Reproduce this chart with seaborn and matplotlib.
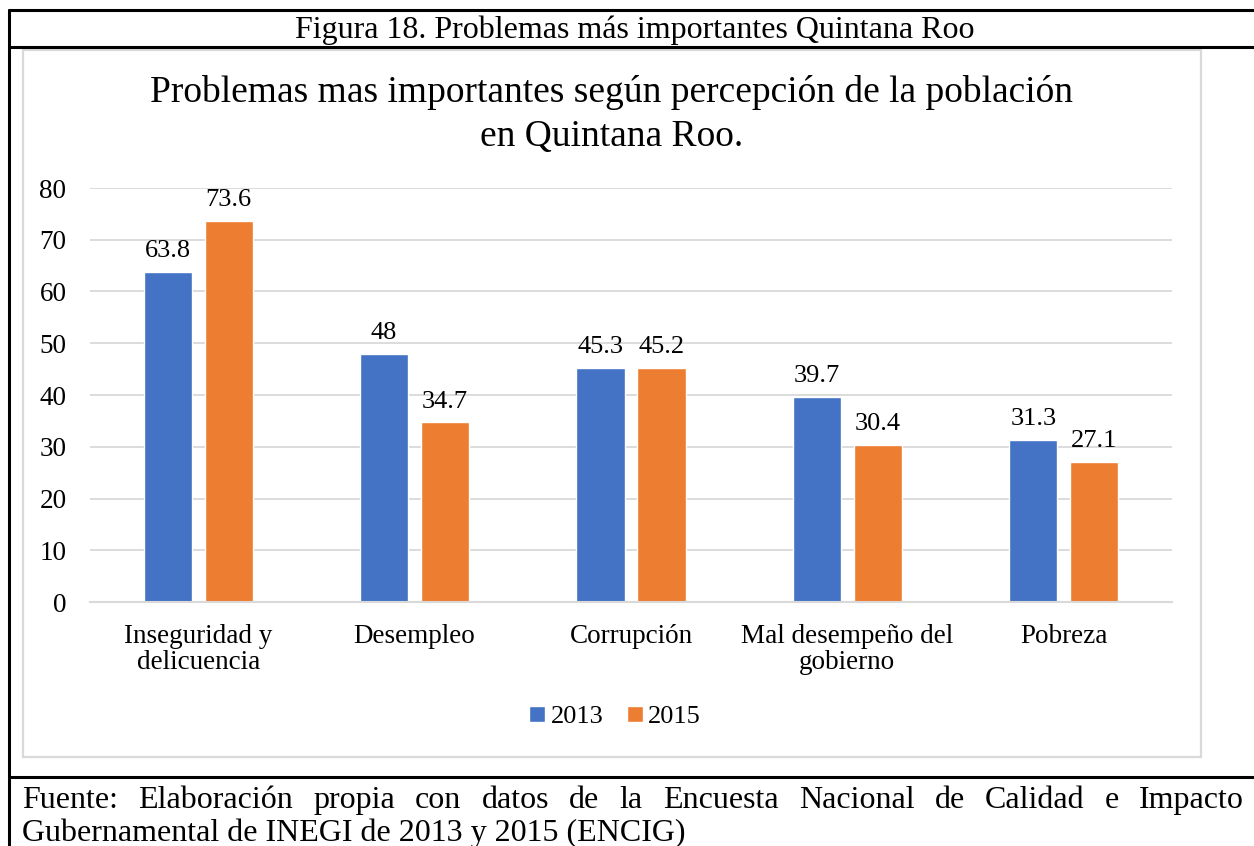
import numpy as np
import pandas as pd
import matplotlib.pyplot as plt
import seaborn as sns
from matplotlib.lines import Line2D
from matplotlib.patches import Rectangle

# data
categorias = ["Inseguridad y\ndelicuencia", "Desempleo", "Corrupción",
              "Mal desempeño del\ngobierno", "Pobreza"]
anios = ["2013", "2015"]
valores_2013 = [63.8, 48, 45.3, 39.7, 31.3]
valores_2015 = [73.6, 34.7, 45.2, 30.4, 27.1]
y_ticks = [0, 10, 20, 30, 40, 50, 60, 70, 80]
colores = ["#4472C4", "#ED7D31"]

df = pd.DataFrame({
    "problema": categorias * 2,
    "anio": [anios[0]] * len(categorias) + [anios[1]] * len(categorias),
    "valor": valores_2013 + valores_2015,
})

sns.set_theme(style="white")
plt.rcParams["font.family"] = ["Liberation Serif", "DejaVu Serif"]
plt.rcParams["text.color"] = "black"
plt.rcParams["xtick.color"] = "black"
plt.rcParams["ytick.color"] = "black"

W, H = 1254, 846
fig = plt.figure(figsize=(W / 100, H / 100), dpi=100)

def fx(px):
    return px / W

def fy(py):
    return 1 - py / H

ax = fig.add_axes([fx(90), fy(602), fx(1172) - fx(90), fy(188) - fy(602)])

sns.barplot(data=df, x="problema", y="valor", hue="anio", palette=colores,
            saturation=1, width=0.563, gap=0.21, ax=ax, legend=True)

for cont in ax.containers:
    ax.bar_label(cont, labels=["{:g}".format(v) for v in cont.datavalues],
                 padding=7, fontsize=19, color="black")

ax.set_ylim(0, 80)
ax.set_yticks(y_ticks)
ax.set_yticklabels([str(t) for t in y_ticks], fontsize=19.5)
ax.set_xticks(range(len(categorias)))
ax.set_xticklabels(categorias, fontsize=19.5, linespacing=1.05)
ax.tick_params(axis="x", length=0, pad=16, labelcolor="black")
ax.tick_params(axis="y", length=0, pad=17, labelcolor="black")
ax.set_xlabel("")
ax.set_ylabel("")
ax.grid(axis="y", color="#D9D9D9", linewidth=1.3)
ax.set_axisbelow(True)
for s in ["top", "right", "left"]:
    ax.spines[s].set_visible(False)
ax.spines["bottom"].set_color("#D9D9D9")
ax.spines["bottom"].set_linewidth(1.5)

h, l = ax.get_legend_handles_labels()
leg = ax.legend(h, l, loc="center", bbox_to_anchor=(fx(615), fy(717)),
                bbox_transform=fig.transFigure, ncol=2, frameon=False, fontsize=19,
                handlelength=0.6, handleheight=0.6, handletextpad=0.2,
                columnspacing=0.9, labelcolor="black")

# title of the chart
fig.text(fx(612), fy(93), "Problemas mas importantes según percepción de la población",
         ha="center", va="center", fontsize=27, color="black")
fig.text(fx(612), fy(137), "en Quintana Roo.", ha="center", va="center",
         fontsize=27, color="black")

# chart frame (light gray)
fig.add_artist(Rectangle((fx(23), fy(757)), fx(1201) - fx(23), fy(50) - fy(757),
                         transform=fig.transFigure, fill=False,
                         edgecolor="#D9D9D9", linewidth=1.6))

# table lines (black)
lw = 2.2
fig.add_artist(Line2D([fx(9), 1], [fy(10), fy(10)], color="black", lw=lw))
fig.add_artist(Line2D([fx(9), 1], [fy(47), fy(47)], color="black", lw=lw))
fig.add_artist(Line2D([fx(9), 1], [fy(777), fy(777)], color="black", lw=lw))
fig.add_artist(Line2D([fx(9), fx(9)], [fy(10), 0], color="black", lw=lw))

# header
fig.text(fx(635), fy(30), "Figura 18. Problemas más importantes Quintana Roo",
         ha="center", va="center", fontsize=23, color="black")

# footer, first line justified
linea1 = "Fuente: Elaboración propia con datos de la Encuesta Nacional de Calidad e Impacto"
linea2 = "Gubernamental de INEGI de 2013 y 2015 (ENCIG)"
palabras = linea1.split()
renderer = fig.canvas.get_renderer()
textos = [fig.text(0, fy(800), p, ha="left", va="center", fontsize=23, color="black")
          for p in palabras]
anchos = [t.get_window_extent(renderer).width for t in textos]
x0, x1 = 22, 1244
hueco = (x1 - x0 - sum(anchos)) / (len(palabras) - 1)
x = x0
for t, a in zip(textos, anchos):
    t.set_x(fx(x))
    x += a + hueco
fig.text(fx(22), fy(833), linea2, ha="left", va="center", fontsize=23, color="black")

fig.savefig("out.png", dpi=100)
